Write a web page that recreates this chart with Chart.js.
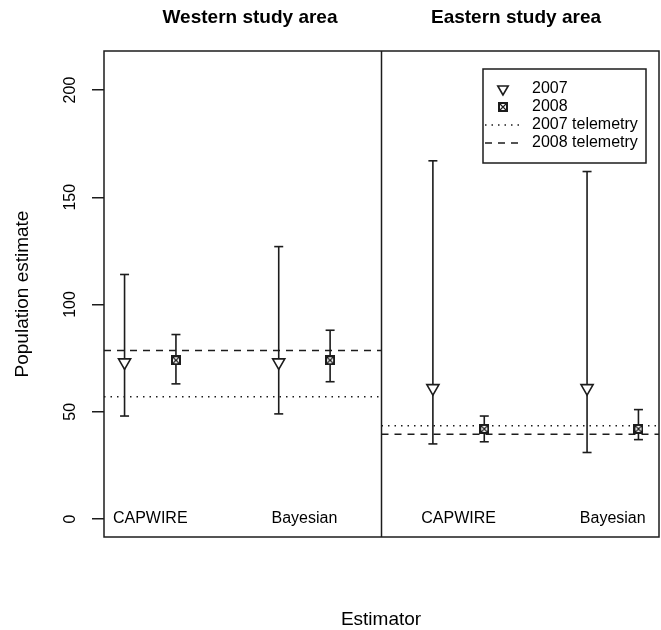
<!DOCTYPE html>
<html>
<head>
<meta charset="utf-8">
<script src="https://cdn.jsdelivr.net/npm/chart.js@4.4.1/dist/chart.umd.min.js"></script>
<style>
  html, body { margin: 0; padding: 0; background: #fff; }
  canvas { display: block; }
</style>
</head>
<body>
<canvas id="chart" width="661" height="630"></canvas>
<script>
// study areas (panels) and estimators (groups inside a panel)
const areas = ['Western study area', 'Eastern study area'];
const estimators = ['CAPWIRE', 'Bayesian'];
const years = ['2007', '2008'];

// estimates + interval limits, order = [CAPWIRE, Bayesian]
const west2007 = [73, 73];
const west2007Lo = [48, 49];
const west2007Hi = [114, 127];
const west2008 = [74, 74];
const west2008Lo = [63, 64];
const west2008Hi = [86, 88];

const east2007 = [61, 61];
const east2007Lo = [35, 31];
const east2007Hi = [167, 162];
const east2008 = [42, 42];
const east2008Lo = [36, 37];
const east2008Hi = [48, 51];

// telemetry counts, order = [west, east]
const telemetry2007 = [57, 43.5];
const telemetry2008 = [78.5, 39.5];

const yTicks = [0, 50, 100, 150, 200];

// layout: each panel is 5.4 x-units wide, right one shifted by 6
const SPLIT = 6;
const shift = [0, SPLIT];
const X_MIN = 0.6, X_MAX = 11.4;
const pos2007 = [1, 4];
const pos2008 = [2, 5];
const labelPos = [1.5, 4.5];

const FONT = '"Liberation Sans", Arial, Helvetica, sans-serif';
const INK = '#1c1c1c';

const est = { '2007': [west2007, east2007], '2008': [west2008, east2008] };
const lo = { '2007': [west2007Lo, east2007Lo], '2008': [west2008Lo, east2008Lo] };
const hi = { '2007': [west2007Hi, east2007Hi], '2008': [west2008Hi, east2008Hi] };
const slot = { '2007': pos2007, '2008': pos2008 };

function points(year) {
  const out = [];
  areas.forEach((a, p) => estimators.forEach((e, i) => {
    out.push({ x: shift[p] + slot[year][i], y: est[year][p][i] });
  }));
  return out;
}

function bars() {
  const out = [];
  years.forEach(year => areas.forEach((a, p) => estimators.forEach((e, i) => {
    const x = shift[p] + slot[year][i];
    out.push({ x, y: lo[year][p][i] }, { x, y: hi[year][p][i] }, { x, y: null });
  })));
  return out;
}

function refLine(vals) {
  return [
    { x: X_MIN, y: vals[0] }, { x: SPLIT, y: vals[0] }, { x: SPLIT, y: null },
    { x: SPLIT, y: vals[1] }, { x: X_MAX, y: vals[1] }
  ];
}

// square with an x inside (R pch 7)
function boxCross(size) {
  const c = document.createElement('canvas');
  c.width = c.height = size;
  const g = c.getContext('2d');
  g.fillStyle = '#fff';
  g.fillRect(0, 0, size, size);
  g.strokeStyle = INK;
  g.lineWidth = 2;
  g.strokeRect(1, 1, size - 2, size - 2);
  g.lineWidth = 1.2;
  g.beginPath();
  g.moveTo(2, 2); g.lineTo(size - 2, size - 2);
  g.moveTo(size - 2, 2); g.lineTo(2, size - 2);
  g.stroke();
  return c;
}
const boxImg = boxCross(10);

const DOT = [1.5, 5];
const DASH = [7, 6];

const decor = {
  id: 'decor',
  afterDraw(chart) {
    const ctx = chart.ctx;
    const ca = chart.chartArea;
    const xs = chart.scales.x, ys = chart.scales.y;
    ctx.save();
    // frame + panel divider
    ctx.strokeStyle = INK;
    ctx.lineWidth = 1.5;
    ctx.strokeRect(ca.left, ca.top, ca.right - ca.left, ca.bottom - ca.top);
    const mid = xs.getPixelForValue(SPLIT);
    ctx.beginPath();
    ctx.moveTo(mid, ca.top); ctx.lineTo(mid, ca.bottom);
    ctx.stroke();

    ctx.fillStyle = '#000';
    // y tick labels, rotated like R
    ctx.font = '16px ' + FONT;
    ctx.textAlign = 'center';
    ctx.textBaseline = 'middle';
    yTicks.forEach(v => {
      ctx.save();
      ctx.translate(71, ys.getPixelForValue(v));
      ctx.rotate(-Math.PI / 2);
      ctx.fillText(String(v), 0, 0);
      ctx.restore();
    });

    // estimator labels at y = 0
    areas.forEach((a, p) => estimators.forEach((e, i) => {
      ctx.fillText(e, xs.getPixelForValue(shift[p] + labelPos[i]), ys.getPixelForValue(0));
    }));

    // panel titles
    ctx.font = 'bold 19px ' + FONT;
    ctx.fillText(areas[0], 250, 18);
    ctx.fillText(areas[1], 516, 18);

    // axis titles
    ctx.font = '19px ' + FONT;
    ctx.fillText('Estimator', 381, 620);
    ctx.save();
    ctx.translate(23, (ca.top + ca.bottom) / 2);
    ctx.rotate(-Math.PI / 2);
    ctx.fillText('Population estimate', 0, 0);
    ctx.restore();

    // legend
    const L = 483, T = 69, R = 646, B = 163;
    ctx.fillStyle = '#fff';
    ctx.fillRect(L, T, R - L, B - T);
    ctx.lineWidth = 1.5;
    ctx.strokeStyle = INK;
    ctx.strokeRect(L, T, R - L, B - T);
    const rows = [89, 107, 125, 143];
    const symX = 503, textX = 532;
    ctx.fillStyle = '#fff';
    ctx.lineWidth = 1.6;
    Chart.helpers.drawPoint(ctx, { pointStyle: 'triangle', radius: 6, rotation: 180, borderWidth: 1.6 }, symX, rows[0]);
    ctx.drawImage(boxImg, symX - 5, rows[1] - 5);
    ctx.lineWidth = 1.5;
    ctx.setLineDash(DOT);
    ctx.beginPath(); ctx.moveTo(485, rows[2]); ctx.lineTo(520, rows[2]); ctx.stroke();
    ctx.setLineDash(DASH);
    ctx.beginPath(); ctx.moveTo(485, rows[3]); ctx.lineTo(520, rows[3]); ctx.stroke();
    ctx.setLineDash([]);
    ctx.fillStyle = '#000';
    ctx.font = '16px ' + FONT;
    ctx.textAlign = 'left';
    const names = [years[0], years[1], years[0] + ' telemetry', years[1] + ' telemetry'];
    names.forEach((n, k) => ctx.fillText(n, textX, rows[k]));
    ctx.restore();
  }
};

new Chart(document.getElementById('chart'), {
  type: 'scatter',
  data: {
    datasets: [
      {
        label: '2007',
        data: points('2007'),
        pointStyle: 'triangle',
        rotation: 180,
        pointRadius: 7,
        pointBackgroundColor: '#fff',
        pointBorderColor: INK,
        pointBorderWidth: 1.6,
        showLine: false
      },
      {
        label: '2008',
        data: points('2008'),
        pointStyle: boxImg,
        pointRadius: 5,
        showLine: false
      },
      {
        label: 'intervals',
        data: bars(),
        showLine: true,
        spanGaps: false,
        borderColor: INK,
        borderWidth: 1.6,
        pointStyle: 'line',
        pointRadius: 4.5,
        pointBorderColor: INK,
        pointBorderWidth: 1.6
      },
      {
        label: '2007 telemetry',
        data: refLine(telemetry2007),
        showLine: true,
        spanGaps: false,
        borderColor: INK,
        borderWidth: 1.5,
        borderDash: DOT,
        pointRadius: 0
      },
      {
        label: '2008 telemetry',
        data: refLine(telemetry2008),
        showLine: true,
        spanGaps: false,
        borderColor: INK,
        borderWidth: 1.5,
        borderDash: DASH,
        pointRadius: 0
      }
    ]
  },
  options: {
    responsive: false,
    animation: false,
    events: [],
    layout: { autoPadding: false, padding: { top: 51, right: 2, bottom: 93, left: 0 } },
    plugins: { legend: { display: false }, tooltip: { enabled: false } },
    scales: {
      x: { type: 'linear', min: X_MIN, max: X_MAX, display: false },
      y: {
        type: 'linear',
        min: -8.4,
        max: 218.2,
        afterBuildTicks: s => { s.ticks = yTicks.map(v => ({ value: v })); },
        afterFit: s => { s.width = 104; },
        ticks: { display: false },
        border: { display: false },
        grid: { drawOnChartArea: false, drawTicks: true, tickLength: 12, color: INK, lineWidth: 1.5 }
      }
    }
  },
  plugins: [decor]
});
</script>
</body>
</html>
